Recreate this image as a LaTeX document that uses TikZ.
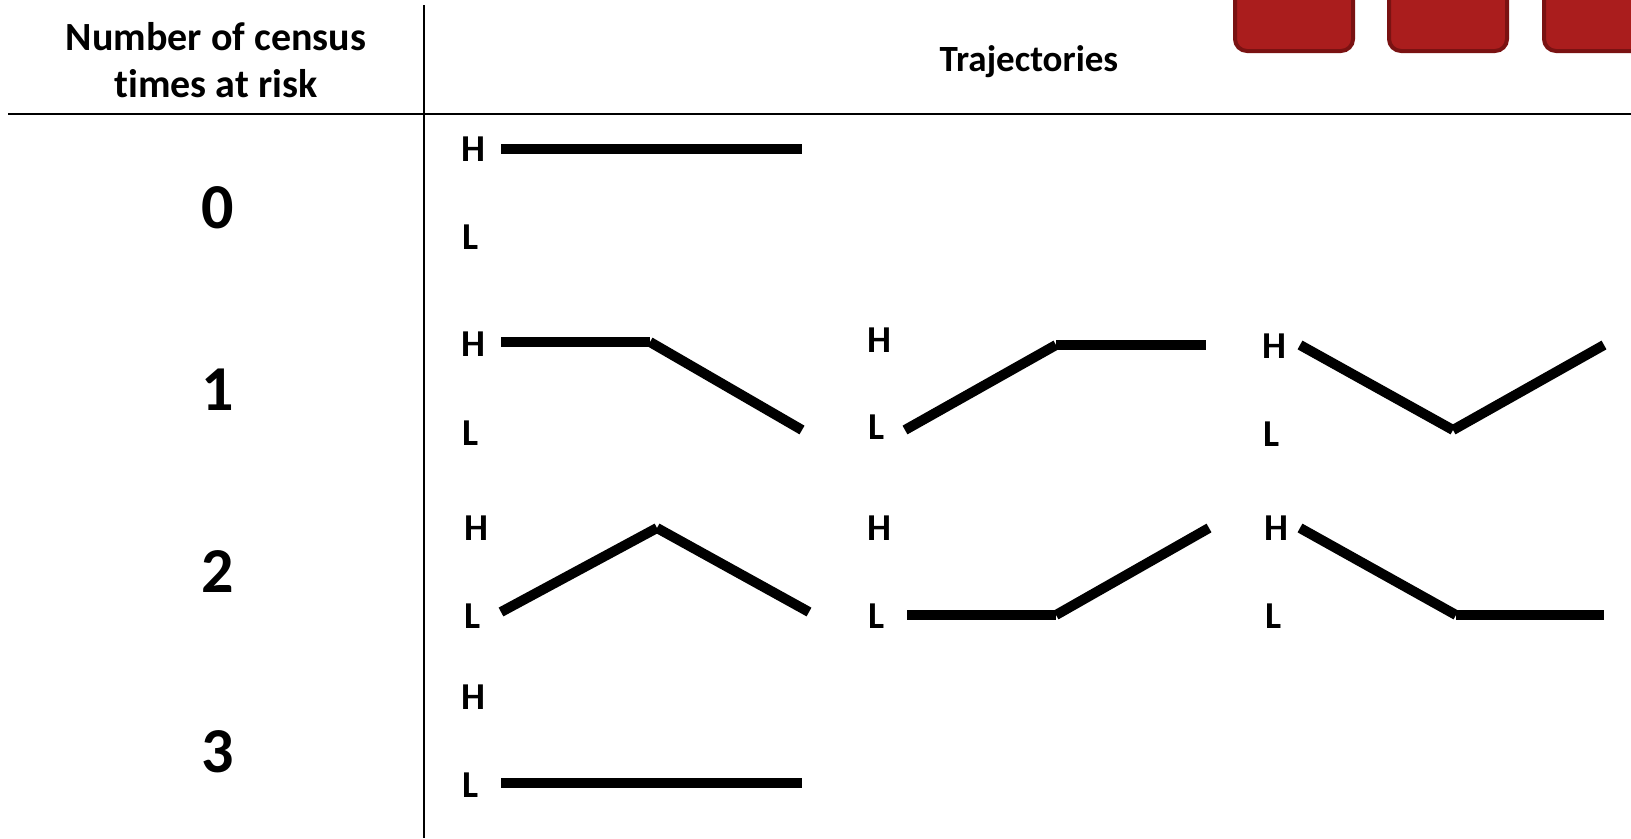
\documentclass[tikz,border=0pt]{standalone}
\usepackage{fontspec}
\setmainfont{Carlito}[Ligatures=NoCommon]
\begin{document}
\begin{tikzpicture}[x=1bp,y=-1bp,
  rule/.style={line width=2bp,black},
  traj/.style={line width=10bp,black,line cap=butt},
  lvl/.style={font=\bfseries\fontsize{38bp}{40bp}\selectfont,inner sep=0pt},
  head/.style={font=\bfseries\fontsize{40bp}{47bp}\selectfont,align=center,inner sep=0pt},
  count/.style={font=\bfseries\fontsize{64bp}{70bp}\selectfont,inner sep=0pt},
  tab/.style={rounded corners=12bp,fill={rgb,255:red,170;green,29;blue,29},
    draw={rgb,255:red,122;green,18;blue,18},line width=4bp}]
\useasboundingbox (0,0) rectangle (1631,838);
\clip (0,0) rectangle (1631,838);
% tabs at the top edge
\draw[tab] (1235,-30) rectangle (1353,51);
\draw[tab] (1389,-30) rectangle (1507,51);
\draw[tab] (1544,-30) rectangle (1680,51);
% table rules
\coordinate (vtop) at (424,5);
\coordinate (vbot) at (424,838);
\coordinate (hl) at (8,114);
\coordinate (hr) at (1631,114);
\draw[rule] (vtop) -- (vbot);
\draw[rule] (hl) -- (hr);
% headers
\node[head] (hcount) at (216,60) {Number of census\\times at risk};
\node[head,font=\bfseries\fontsize{37bp}{40bp}\selectfont] (htraj) at (1029,62) {Trajectories};
% counts
\node[count] (n0) at (218,208) {0};
\node[count] (n1) at (218,390) {1};
\node[count] (n2) at (218,572) {2};
\node[count] (n3) at (218,752) {3};
% level labels
\node[lvl] (h0) at (473,149) {H};
\node[lvl] (l0) at (471,237) {L};
\node[lvl] (h1a) at (473,344) {H};
\node[lvl] (l1a) at (471,433) {L};
\node[lvl] (h1b) at (879,340) {H};
\node[lvl] (l1b) at (877,427) {L};
\node[lvl] (h1c) at (1274,346) {H};
\node[lvl] (l1c) at (1272,434) {L};
\node[lvl] (h2a) at (476,528) {H};
\node[lvl] (l2a) at (473,616) {L};
\node[lvl] (h2b) at (879,528) {H};
\node[lvl] (l2b) at (877,616) {L};
\node[lvl] (h2c) at (1276,528) {H};
\node[lvl] (l2c) at (1274,616) {L};
\node[lvl] (h3) at (473,697) {H};
\node[lvl] (l3) at (471,785) {L};
% trajectory points
\coordinate (a0) at (501,149); \coordinate (b0) at (802,149);
\coordinate (a1) at (501,342); \coordinate (m1) at (650,342); \coordinate (b1) at (802,430);
\coordinate (a2) at (905,430); \coordinate (m2) at (1056,345); \coordinate (b2) at (1206,345);
\coordinate (a3) at (1300,345); \coordinate (m3) at (1453,430); \coordinate (b3) at (1604,345);
\coordinate (a4) at (501,612); \coordinate (m4) at (657,528); \coordinate (b4) at (809,612);
\coordinate (a5) at (907,615); \coordinate (m5) at (1056,615); \coordinate (b5) at (1209,528);
\coordinate (a6) at (1300,528); \coordinate (m6) at (1456,615); \coordinate (b6) at (1604,615);
\coordinate (a7) at (501,783); \coordinate (b7) at (802,783);
% trajectories
\draw[traj] (a0) -- (b0);
\draw[traj] (a1) -- (m1); \draw[traj] (m1) -- (b1);
\draw[traj] (a2) -- (m2); \draw[traj] (m2) -- (b2);
\draw[traj] (a3) -- (m3); \draw[traj] (m3) -- (b3);
\draw[traj] (a4) -- (m4); \draw[traj] (m4) -- (b4);
\draw[traj] (a5) -- (m5); \draw[traj] (m5) -- (b5);
\draw[traj] (a6) -- (m6); \draw[traj] (m6) -- (b6);
\draw[traj] (a7) -- (b7);
\end{tikzpicture}
\end{document}
